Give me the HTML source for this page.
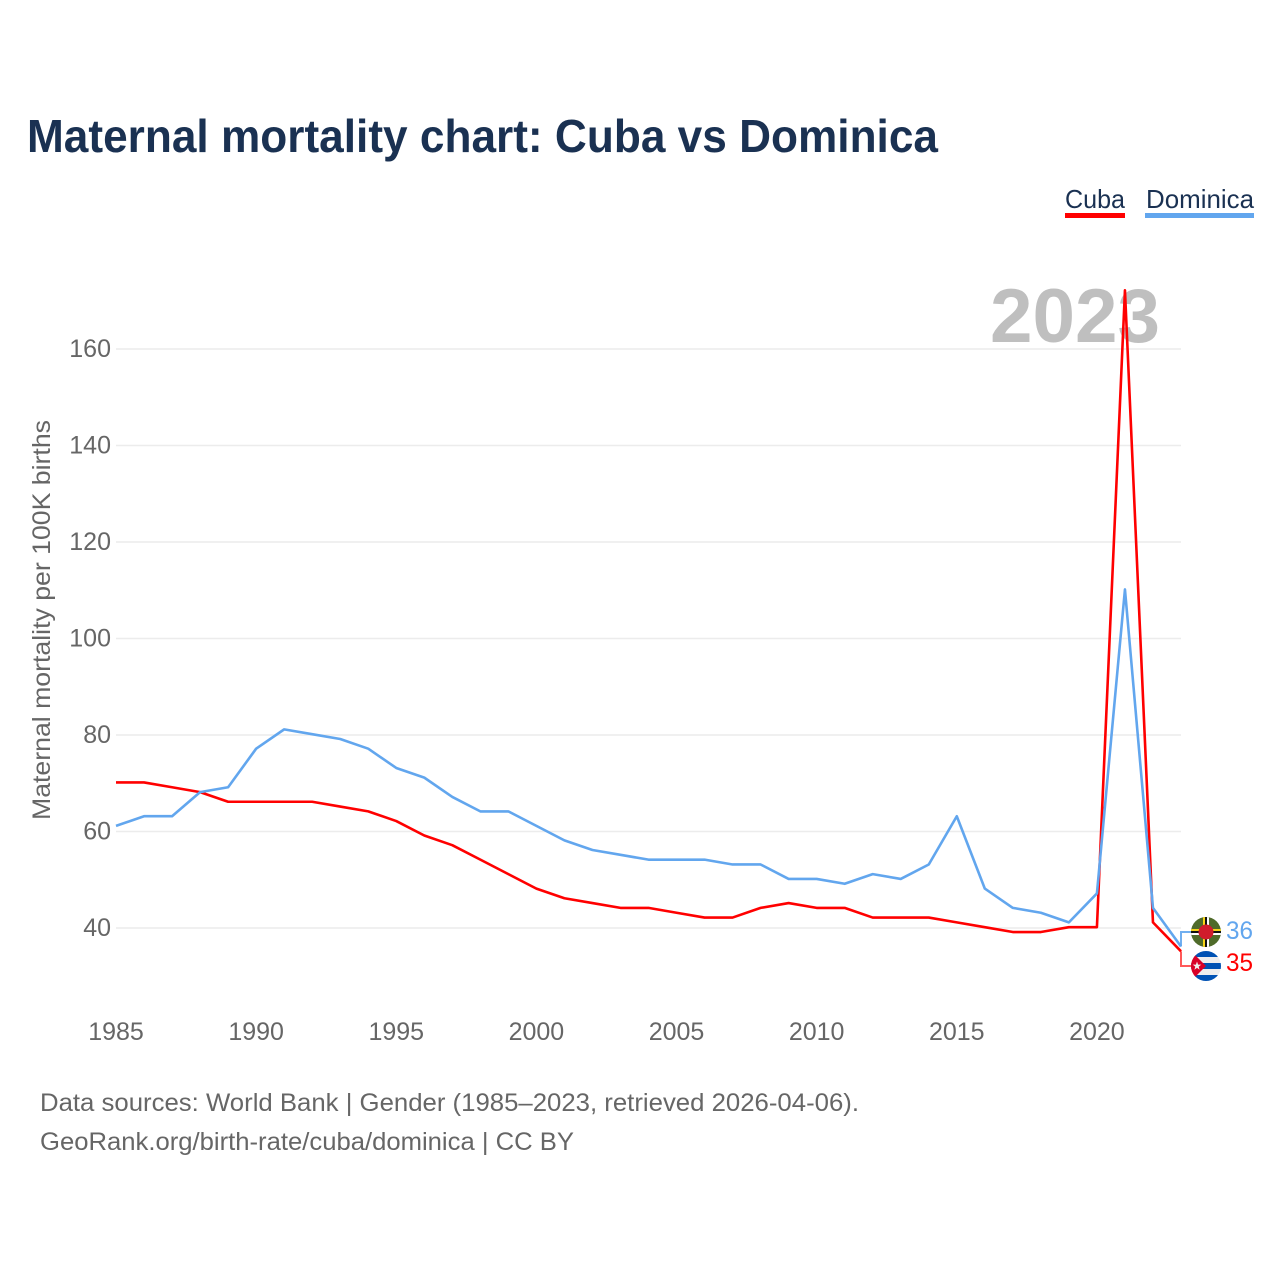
<!DOCTYPE html>
<html>
<head>
<meta charset="utf-8">
<title>Maternal mortality chart: Cuba vs Dominica</title>
<style>
html,body{margin:0;padding:0;background:#fff;width:1280px;height:1280px;overflow:hidden}
svg{display:block}
text{font-family:"Liberation Sans",sans-serif}
</style>
</head>
<body>
<svg id="chart" xmlns="http://www.w3.org/2000/svg" width="1280" height="1280" viewBox="0 0 1280 1280">
  <text x="27" y="152" font-size="46" font-weight="700" fill="#1a3152" textLength="911" lengthAdjust="spacingAndGlyphs">Maternal mortality chart: Cuba vs Dominica</text>

  <g>
    <g>
      <text x="1065" y="208" font-size="26" fill="#1a3152" textLength="60" lengthAdjust="spacingAndGlyphs">Cuba</text>
      <rect x="1065" y="213" width="60" height="5" fill="#ff0000"></rect>
    </g>
    <g>
      <text x="1146" y="208" font-size="26" fill="#1a3152" textLength="108" lengthAdjust="spacingAndGlyphs">Dominica</text>
      <rect x="1145" y="213" width="109" height="5" fill="#62a6ee"></rect>
    </g>
  </g>

  <g id="grid"></g>
  <text x="990" y="342" font-size="76" font-weight="700" fill="#bfbfbf" textLength="170" lengthAdjust="spacingAndGlyphs">2023</text>
  <g id="yticks"></g>
  <g id="xticks"></g>
  <text transform="translate(50,820) rotate(-90)" font-size="25" fill="#666666" textLength="400" lengthAdjust="spacingAndGlyphs">Maternal mortality per 100K births</text>
  <g id="series"></g>

  <g>
    <path id="connector-dominica" fill="none" stroke="#62a6ee" stroke-width="2" opacity="0.9"></path>
    <g>
      <clipPath id="clip-dm"><circle cx="1206" cy="932" r="15"></circle></clipPath>
      <g clip-path="url(#clip-dm)">
        <rect x="1191" y="917" width="30" height="30" fill="#4f6b2a"></rect>
        <rect x="1191" y="929" width="30" height="2" fill="#f7d417"></rect>
        <rect x="1191" y="931" width="30" height="2" fill="#111111"></rect>
        <rect x="1191" y="933" width="30" height="2" fill="#ffffff"></rect>
        <rect x="1203" y="917" width="2" height="30" fill="#f7d417"></rect>
        <rect x="1205" y="917" width="2" height="30" fill="#111111"></rect>
        <rect x="1207" y="917" width="2" height="30" fill="#ffffff"></rect>
        <circle cx="1206" cy="932" r="7.5" fill="#d01c2c"></circle>
      </g>
    </g>
    <text id="value-dominica" x="1226" y="939" font-size="25" fill="#62a6ee" textLength="27" lengthAdjust="spacingAndGlyphs"></text>
  </g>
  <g>
    <path id="connector-cuba" fill="none" stroke="#ff0000" stroke-width="2" opacity="0.65"></path>
    <g>
      <clipPath id="clip-cu"><circle cx="1206" cy="966" r="15"></circle></clipPath>
      <g clip-path="url(#clip-cu)">
        <rect x="1191" y="951" width="30" height="30" fill="#eeeeee"></rect>
        <rect x="1191" y="951" width="30" height="6" fill="#0052b4"></rect>
        <rect x="1191" y="963" width="30" height="6" fill="#0052b4"></rect>
        <rect x="1191" y="975" width="30" height="6" fill="#0052b4"></rect>
        <polygon points="1191,951 1206,966 1191,981" fill="#d80027"></polygon>
        <polygon points="1197,961.5 1198.1,964.6 1201.3,964.6 1198.7,966.6 1199.6,969.8 1197,967.9 1194.4,969.8 1195.3,966.6 1192.7,964.6 1195.9,964.6" fill="#eeeeee"></polygon>
      </g>
    </g>
    <text id="value-cuba" x="1226" y="971" font-size="25" fill="#ff0000" textLength="27" lengthAdjust="spacingAndGlyphs"></text>
  </g>

  <text x="40" y="1111" font-size="25" fill="#666666" textLength="819" lengthAdjust="spacingAndGlyphs">Data sources: World Bank | Gender (1985–2023, retrieved 2026-04-06).</text>
  <text x="40" y="1150" font-size="25" fill="#666666" textLength="534" lengthAdjust="spacingAndGlyphs">GeoRank.org/birth-rate/cuba/dominica | CC BY</text>
</svg>
<script>
const years = [1985,1986,1987,1988,1989,1990,1991,1992,1993,1994,1995,1996,1997,1998,1999,2000,2001,2002,2003,2004,2005,2006,2007,2008,2009,2010,2011,2012,2013,2014,2015,2016,2017,2018,2019,2020,2021,2022,2023];
const cubaValues = [70,70,69,68,66,66,66,66,65,64,62,59,57,54,51,48,46,45,44,44,43,42,42,44,45,44,44,42,42,42,41,40,39,39,40,40,172,41,35];
const dominicaValues = [61,63,63,68,69,77,81,80,79,77,73,71,67,64,64,61,58,56,55,54,54,54,53,53,50,50,49,51,50,53,63,48,44,43,41,47,110,44,36];
const xTickLabels = [1985,1990,1995,2000,2005,2010,2015,2020];
const yTickLabels = [40,60,80,100,120,140,160];

const NS = 'http://www.w3.org/2000/svg';
function xScale(year) { return 116 + (year - 1985) * (1181 - 116) / 38; }
function yScale(value) { return 928 - (value - 40) * (928 - 349) / 120; }
function make(tag, attrs, parent) {
  const el = document.createElementNS(NS, tag);
  for (const k in attrs) el.setAttribute(k, attrs[k]);
  parent.appendChild(el);
  return el;
}
const gridG = document.getElementById('grid');
const yG = document.getElementById('yticks');
const xG = document.getElementById('xticks');
const seriesG = document.getElementById('series');

yTickLabels.forEach(function (v) {
  const line = make('line', {x1: 116, x2: 1181, y1: yScale(v), y2: yScale(v), stroke: '#ececec', 'stroke-width': 1.6}, gridG);
  
  
  const t = make('text', {x: 111, y: yScale(v) + 8, 'text-anchor': 'end', 'font-size': 25, fill: '#666666'}, yG);
  
  
  t.textContent = v;
});
xTickLabels.forEach(function (yr) {
  const t = make('text', {x: xScale(yr), y: 1040, 'text-anchor': 'middle', 'font-size': 25, fill: '#666666'}, xG);
  
  
  t.textContent = yr;
});
function linePath(values) {
  return values.map(function (v, i) {
    return (i ? 'L' : 'M') + xScale(years[i]).toFixed(2) + ' ' + (yScale(v) - 0.8).toFixed(2);
  }).join(' ');
}
const cubaLine = make('path', {d: linePath(cubaValues), fill: 'none', stroke: '#ff0000', 'stroke-width': 2.6, 'stroke-linejoin': 'round'}, seriesG);


const domLine = make('path', {d: linePath(dominicaValues), fill: 'none', stroke: '#62a6ee', 'stroke-width': 2.6, 'stroke-linejoin': 'round'}, seriesG);



const lastCuba = cubaValues[cubaValues.length - 1];
const lastDom = dominicaValues[dominicaValues.length - 1];
document.getElementById('value-cuba').textContent = lastCuba;
document.getElementById('value-dominica').textContent = lastDom;
const endX = xScale(years[years.length - 1]);
document.getElementById('connector-cuba').setAttribute('d', 'M' + endX + ' ' + (yScale(lastCuba) - 0.8) + ' V966 H1191');
document.getElementById('connector-dominica').setAttribute('d', 'M' + endX + ' ' + (yScale(lastDom) - 0.8) + ' V932 H1191');
</script>
</body>
</html>
